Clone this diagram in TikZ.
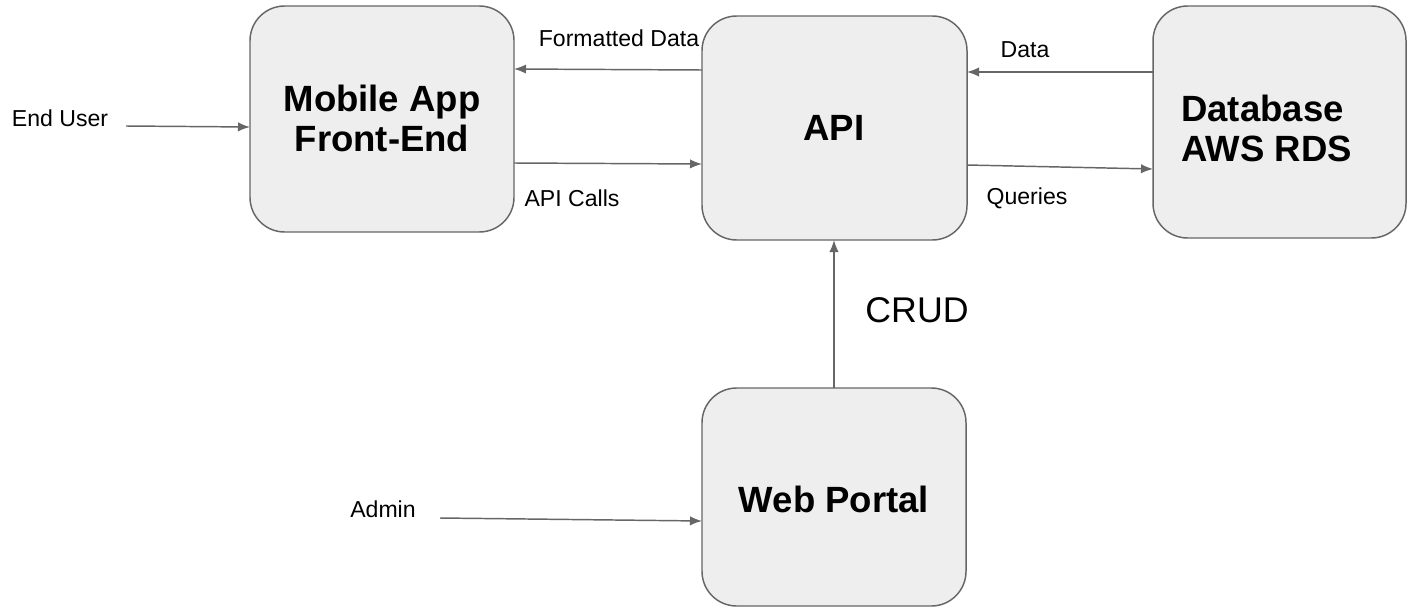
\documentclass[tikz,border=0pt]{standalone}
\usepackage{fontspec}
\setmainfont{Liberation Sans}
\usetikzlibrary{arrows.meta}
\definecolor{boxfill}{HTML}{EEEEEE}
\definecolor{edge}{HTML}{666666}
\begin{document}
\begin{tikzpicture}[x=0.75pt,y=-0.75pt,
  blk/.style={draw=edge,fill=boxfill,line width=1.1pt,rounded corners=26pt},
  btxt/.style={align=center,font=\fontsize{27.4}{30}\selectfont\bfseries},
  lbl/.style={font=\fontsize{17.3}{20}\selectfont},
  conn/.style={draw=edge,line width=1.1pt,-{Latex[length=9pt,width=7pt]}}]
\useasboundingbox (0,0) rectangle (1408,610);
\fill[white] (0,0) rectangle (1408,610);
% boxes
\draw[blk] (250,6) rectangle (514,232);
\draw[blk] (702,16) rectangle (967,240);
\draw[blk] (1153,6) rectangle (1406,238);
\draw[blk] (702,388) rectangle (966,606);
\node[btxt] (mobile) at (382,118) {Mobile App\\Front-End};
\node[btxt] (api) at (834,128) {API};
\node[btxt,align=left,anchor=west,inner sep=0pt] (db) at (1181,128) {Database\\AWS RDS};
\node[btxt] (web) at (834,499) {Web Portal};
% anchor coordinates
\coordinate (euS) at (126,126);
\coordinate (euE) at (250,127);
\coordinate (fdS) at (702,70);
\coordinate (fdE) at (514,69);
\coordinate (acS) at (514,163);
\coordinate (acE) at (702,164);
\coordinate (dS) at (1153,72);
\coordinate (dE) at (967,72);
\coordinate (qS) at (967,165);
\coordinate (qE) at (1153,169);
\coordinate (cS) at (834,388);
\coordinate (cE) at (834,240);
\coordinate (adS) at (440,518);
\coordinate (adE) at (702,521);
% connectors
\draw[conn] (euS) -- (euE);
\draw[conn] (fdS) -- (fdE);
\draw[conn] (acS) -- (acE);
\draw[conn] (dS) -- (dE);
\draw[conn] (qS) -- (qE);
\draw[conn] (cS) -- (cE);
\draw[conn] (adS) -- (adE);
% labels
\node[lbl] (leu) at (60,118) {End User};
\node[lbl] (lfd) at (619,38) {Formatted Data};
\node[lbl] (lac) at (572,198) {API Calls};
\node[lbl] (ld) at (1025,50) {Data};
\node[lbl] (lq) at (1027,198) {Queries};
\node[lbl] (lad) at (383,509) {Admin};
\node[font=\fontsize{26.8}{30}\selectfont] (lcrud) at (917,310) {CRUD};
\end{tikzpicture}
\end{document}
